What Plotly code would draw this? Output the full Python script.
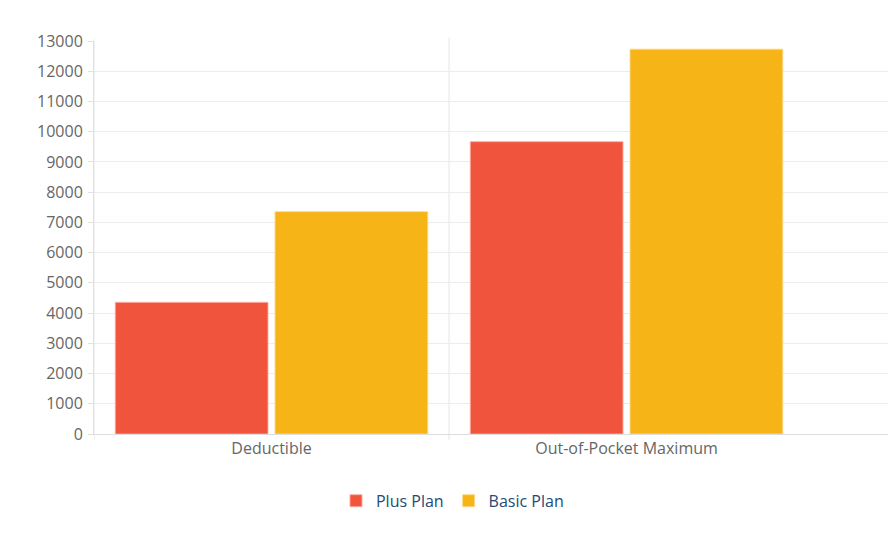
import plotly.graph_objects as go

categories = ["Deductible", "Out-of-Pocket Maximum"]
plus_plan = [4355, 9670]
basic_plan = [7355, 12730]
series_names = ["Plus Plan", "Basic Plan"]
y_ticks = list(range(0, 13001, 1000))

PLUS = "#F1543D"
BASIC = "#F7B417"
FONT = "Open Sans, Poppins, sans-serif"

fig = go.Figure()
fig.add_trace(go.Bar(
    x=categories, y=plus_plan, name=series_names[0],
    marker=dict(color=PLUS, line=dict(color="rgba(255,170,160,0.9)", width=1)),
))
fig.add_trace(go.Bar(
    x=categories, y=basic_plan, name=series_names[1],
    marker=dict(color=BASIC, line=dict(color="rgba(255,215,130,0.9)", width=1)),
))

# vertical grid lines at category boundaries
for b in [-0.5, 0.5]:
    fig.add_shape(type="line", xref="x", yref="paper", x0=b, x1=b, y0=-0.016, y1=1.008,
                  line=dict(color="#e6e6e6", width=1), layer="below")

# page body has an 8px margin; size the figure so the plot lands where the reference has it
fig.update_layout(
    width=896, height=542,
    margin=dict(l=86, r=8, t=33, b=116),
    paper_bgcolor="white", plot_bgcolor="white",
    barmode="group", bargap=0.1, bargroupgap=0.044,
    font=dict(family=FONT, size=16, color="#666666"),
    showlegend=True,
    legend=dict(orientation="h", x=0.447, xanchor="center", y=-0.17, yanchor="middle",
                font=dict(family=FONT, size=16, color="#264a73"),
                traceorder="normal"),
    xaxis=dict(range=[-0.5, 1.759], showgrid=False, showline=True, linecolor="#dddddd",
               linewidth=1, ticks="", tickfont=dict(size=16, color="#666666"),
               ticklabelstandoff=0, fixedrange=True),
    yaxis=dict(range=[0, 13000], tickvals=y_ticks, tickformat="d", showgrid=True,
               gridcolor="#ececec", gridwidth=1, zeroline=False, showline=True,
               linecolor="#e0e0e0", ticks="outside", ticklen=5, tickcolor="#e0e0e0",
               ticklabelstandoff=2, tickfont=dict(size=16, color="#666666"),
               fixedrange=True),
)

fig.write_html("out.html")
